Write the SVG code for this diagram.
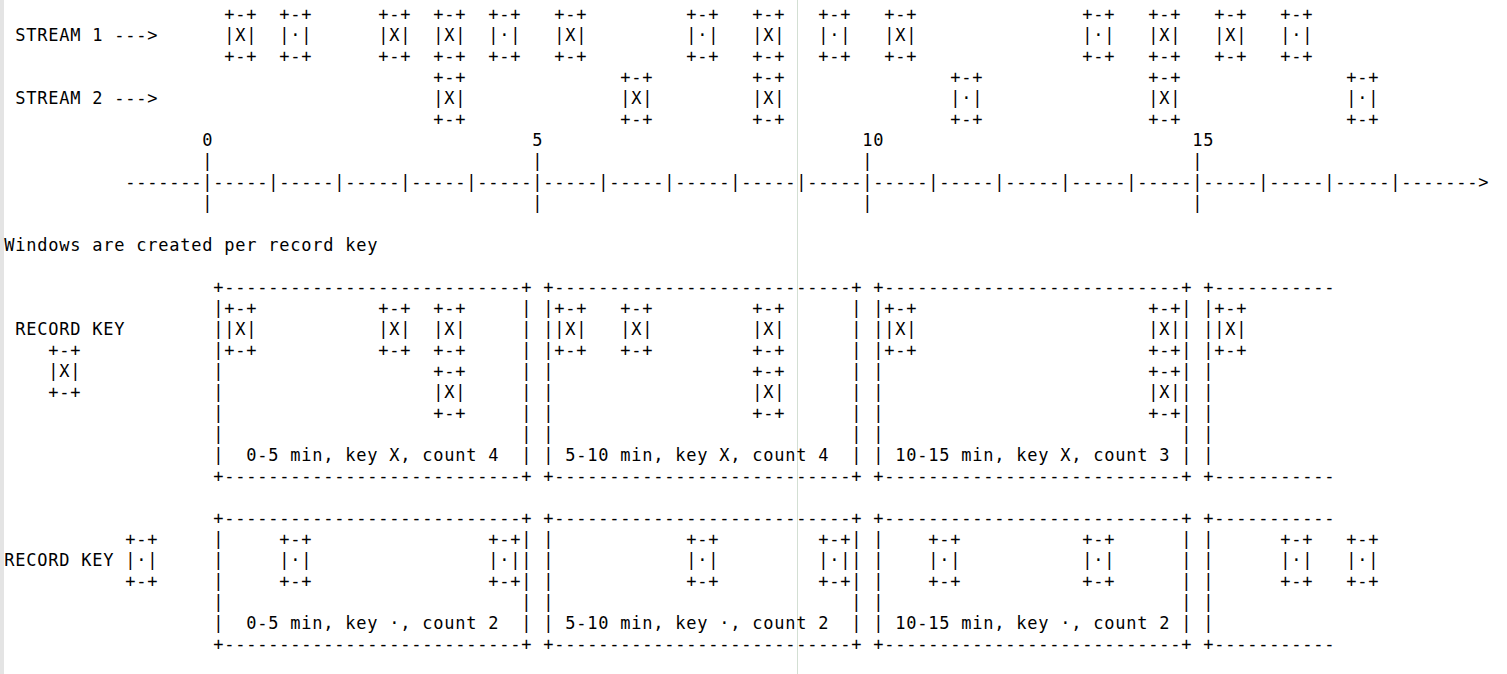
<svg xmlns="http://www.w3.org/2000/svg" width="1507" height="674" viewBox="0 0 1507 674" xml:space="preserve">
<style>
text { font-family: "DejaVu Sans Mono", "Liberation Mono", monospace; font-size: 17px; letter-spacing: 0.765px; fill: #000; white-space: pre; }
.bg { fill: #ffffff; }
.edge { fill: #e4e4e4; }
.ruler { stroke: #d3dfd3; stroke-width: 1; }
</style>
<rect class="bg" x="0" y="0" width="1507" height="674"/>
<rect class="edge" x="0" y="0" width="4" height="674"/>
<line class="ruler" x1="797.5" y1="0" x2="797.5" y2="674"/>

<g id="labels">
<text x="15.3" y="41">STREAM 1 ---&gt;</text>
<text x="15.3" y="104">STREAM 2 ---&gt;</text>
<text x="4.3" y="251">Windows are created per record key</text>
</g>

<g id="stream1">
<g id="s1-1"><text><tspan x="224.3" y="20">+-+</tspan><tspan x="224.3" y="41">|X|</tspan><tspan x="224.3" y="62">+-+</tspan></text></g>
<g id="s1-2"><text><tspan x="279.3" y="20">+-+</tspan><tspan x="279.3" y="41">|·|</tspan><tspan x="279.3" y="62">+-+</tspan></text></g>
<g id="s1-3"><text><tspan x="378.3" y="20">+-+</tspan><tspan x="378.3" y="41">|X|</tspan><tspan x="378.3" y="62">+-+</tspan></text></g>
<g id="s1-4"><text><tspan x="433.3" y="20">+-+</tspan><tspan x="433.3" y="41">|X|</tspan><tspan x="433.3" y="62">+-+</tspan></text></g>
<g id="s1-5"><text><tspan x="488.3" y="20">+-+</tspan><tspan x="488.3" y="41">|·|</tspan><tspan x="488.3" y="62">+-+</tspan></text></g>
<g id="s1-6"><text><tspan x="554.3" y="20">+-+</tspan><tspan x="554.3" y="41">|X|</tspan><tspan x="554.3" y="62">+-+</tspan></text></g>
<g id="s1-7"><text><tspan x="686.3" y="20">+-+</tspan><tspan x="686.3" y="41">|·|</tspan><tspan x="686.3" y="62">+-+</tspan></text></g>
<g id="s1-8"><text><tspan x="752.3" y="20">+-+</tspan><tspan x="752.3" y="41">|X|</tspan><tspan x="752.3" y="62">+-+</tspan></text></g>
<g id="s1-9"><text><tspan x="818.3" y="20">+-+</tspan><tspan x="818.3" y="41">|·|</tspan><tspan x="818.3" y="62">+-+</tspan></text></g>
<g id="s1-10"><text><tspan x="884.3" y="20">+-+</tspan><tspan x="884.3" y="41">|X|</tspan><tspan x="884.3" y="62">+-+</tspan></text></g>
<g id="s1-11"><text><tspan x="1082.3" y="20">+-+</tspan><tspan x="1082.3" y="41">|·|</tspan><tspan x="1082.3" y="62">+-+</tspan></text></g>
<g id="s1-12"><text><tspan x="1148.3" y="20">+-+</tspan><tspan x="1148.3" y="41">|X|</tspan><tspan x="1148.3" y="62">+-+</tspan></text></g>
<g id="s1-13"><text><tspan x="1214.3" y="20">+-+</tspan><tspan x="1214.3" y="41">|X|</tspan><tspan x="1214.3" y="62">+-+</tspan></text></g>
<g id="s1-14"><text><tspan x="1280.3" y="20">+-+</tspan><tspan x="1280.3" y="41">|·|</tspan><tspan x="1280.3" y="62">+-+</tspan></text></g>
</g>

<g id="stream2">
<g id="s2-1"><text><tspan x="433.3" y="83">+-+</tspan><tspan x="433.3" y="104">|X|</tspan><tspan x="433.3" y="125">+-+</tspan></text></g>
<g id="s2-2"><text><tspan x="620.3" y="83">+-+</tspan><tspan x="620.3" y="104">|X|</tspan><tspan x="620.3" y="125">+-+</tspan></text></g>
<g id="s2-3"><text><tspan x="752.3" y="83">+-+</tspan><tspan x="752.3" y="104">|X|</tspan><tspan x="752.3" y="125">+-+</tspan></text></g>
<g id="s2-4"><text><tspan x="950.3" y="83">+-+</tspan><tspan x="950.3" y="104">|·|</tspan><tspan x="950.3" y="125">+-+</tspan></text></g>
<g id="s2-5"><text><tspan x="1148.3" y="83">+-+</tspan><tspan x="1148.3" y="104">|X|</tspan><tspan x="1148.3" y="125">+-+</tspan></text></g>
<g id="s2-6"><text><tspan x="1346.3" y="83">+-+</tspan><tspan x="1346.3" y="104">|·|</tspan><tspan x="1346.3" y="125">+-+</tspan></text></g>
</g>

<g id="connectors">
<text x="125.3" y="188">-------|-----|-----|-----|-----|-----|-----|-----|-----|-----|-----|-----|-----|-----|-----|-----|-----|-----|-----|-------&gt;</text>
</g>

<g id="axis-ticks">
<text><tspan x="202.3" y="146">0</tspan><tspan x="532.3" y="146">5</tspan><tspan x="862.3" y="146">10</tspan><tspan x="1192.3" y="146">15</tspan></text>
<text><tspan x="202.3" y="167">|</tspan><tspan x="532.3" y="167">|</tspan><tspan x="862.3" y="167">|</tspan><tspan x="1192.3" y="167">|</tspan></text>
<text><tspan x="202.3" y="209">|</tspan><tspan x="532.3" y="209">|</tspan><tspan x="862.3" y="209">|</tspan><tspan x="1192.3" y="209">|</tspan></text>
</g>

<g id="key-x">
<g id="key-x-label"><text x="15.3" y="335">RECORD KEY</text><text><tspan x="48.3" y="356">+-+</tspan><tspan x="48.3" y="377">|X|</tspan><tspan x="48.3" y="398">+-+</tspan></text></g>
<g id="wx1">
<text x="213.3" y="293">+---------------------------+</text>
<text><tspan x="213.3" y="314">|</tspan><tspan x="213.3" y="335">|</tspan><tspan x="213.3" y="356">|</tspan><tspan x="213.3" y="377">|</tspan><tspan x="213.3" y="398">|</tspan><tspan x="213.3" y="419">|</tspan><tspan x="213.3" y="440">|</tspan></text>
<text><tspan x="521.3" y="314">|</tspan><tspan x="521.3" y="335">|</tspan><tspan x="521.3" y="356">|</tspan><tspan x="521.3" y="377">|</tspan><tspan x="521.3" y="398">|</tspan><tspan x="521.3" y="419">|</tspan><tspan x="521.3" y="440">|</tspan></text>
<text x="213.3" y="461">|  0-5 min, key X, count 4  |</text>
<text x="213.3" y="482">+---------------------------+</text>
<text><tspan x="224.3" y="314">+-+</tspan><tspan x="224.3" y="335">|X|</tspan><tspan x="224.3" y="356">+-+</tspan></text>
<text><tspan x="378.3" y="314">+-+</tspan><tspan x="378.3" y="335">|X|</tspan><tspan x="378.3" y="356">+-+</tspan></text>
<text><tspan x="433.3" y="314">+-+</tspan><tspan x="433.3" y="335">|X|</tspan><tspan x="433.3" y="356">+-+</tspan></text>
<text><tspan x="433.3" y="377">+-+</tspan><tspan x="433.3" y="398">|X|</tspan><tspan x="433.3" y="419">+-+</tspan></text>
</g>
<g id="wx2">
<text x="543.3" y="293">+---------------------------+</text>
<text><tspan x="543.3" y="314">|</tspan><tspan x="543.3" y="335">|</tspan><tspan x="543.3" y="356">|</tspan><tspan x="543.3" y="377">|</tspan><tspan x="543.3" y="398">|</tspan><tspan x="543.3" y="419">|</tspan><tspan x="543.3" y="440">|</tspan></text>
<text><tspan x="851.3" y="314">|</tspan><tspan x="851.3" y="335">|</tspan><tspan x="851.3" y="356">|</tspan><tspan x="851.3" y="377">|</tspan><tspan x="851.3" y="398">|</tspan><tspan x="851.3" y="419">|</tspan><tspan x="851.3" y="440">|</tspan></text>
<text x="543.3" y="461">| 5-10 min, key X, count 4  |</text>
<text x="543.3" y="482">+---------------------------+</text>
<text><tspan x="554.3" y="314">+-+</tspan><tspan x="554.3" y="335">|X|</tspan><tspan x="554.3" y="356">+-+</tspan></text>
<text><tspan x="620.3" y="314">+-+</tspan><tspan x="620.3" y="335">|X|</tspan><tspan x="620.3" y="356">+-+</tspan></text>
<text><tspan x="752.3" y="314">+-+</tspan><tspan x="752.3" y="335">|X|</tspan><tspan x="752.3" y="356">+-+</tspan></text>
<text><tspan x="752.3" y="377">+-+</tspan><tspan x="752.3" y="398">|X|</tspan><tspan x="752.3" y="419">+-+</tspan></text>
</g>
<g id="wx3">
<text x="873.3" y="293">+---------------------------+</text>
<text><tspan x="873.3" y="314">|</tspan><tspan x="873.3" y="335">|</tspan><tspan x="873.3" y="356">|</tspan><tspan x="873.3" y="377">|</tspan><tspan x="873.3" y="398">|</tspan><tspan x="873.3" y="419">|</tspan><tspan x="873.3" y="440">|</tspan></text>
<text><tspan x="1181.3" y="314">|</tspan><tspan x="1181.3" y="335">|</tspan><tspan x="1181.3" y="356">|</tspan><tspan x="1181.3" y="377">|</tspan><tspan x="1181.3" y="398">|</tspan><tspan x="1181.3" y="419">|</tspan><tspan x="1181.3" y="440">|</tspan></text>
<text x="873.3" y="461">| 10-15 min, key X, count 3 |</text>
<text x="873.3" y="482">+---------------------------+</text>
<text><tspan x="884.3" y="314">+-+</tspan><tspan x="884.3" y="335">|X|</tspan><tspan x="884.3" y="356">+-+</tspan></text>
<text><tspan x="1148.3" y="314">+-+</tspan><tspan x="1148.3" y="335">|X|</tspan><tspan x="1148.3" y="356">+-+</tspan></text>
<text><tspan x="1148.3" y="377">+-+</tspan><tspan x="1148.3" y="398">|X|</tspan><tspan x="1148.3" y="419">+-+</tspan></text>
</g>
<g id="wx4">
<text x="1203.3" y="293">+-----------</text>
<text><tspan x="1203.3" y="314">|</tspan><tspan x="1203.3" y="335">|</tspan><tspan x="1203.3" y="356">|</tspan><tspan x="1203.3" y="377">|</tspan><tspan x="1203.3" y="398">|</tspan><tspan x="1203.3" y="419">|</tspan><tspan x="1203.3" y="440">|</tspan><tspan x="1203.3" y="461">|</tspan></text>
<text x="1203.3" y="482">+-----------</text>
<text><tspan x="1214.3" y="314">+-+</tspan><tspan x="1214.3" y="335">|X|</tspan><tspan x="1214.3" y="356">+-+</tspan></text>
</g>
</g>

<g id="key-dot">
<g id="key-dot-label"><text x="4.3" y="566">RECORD KEY</text><text><tspan x="125.3" y="545">+-+</tspan><tspan x="125.3" y="566">|·|</tspan><tspan x="125.3" y="587">+-+</tspan></text></g>
<g id="wd1">
<text x="213.3" y="524">+---------------------------+</text>
<text><tspan x="213.3" y="545">|</tspan><tspan x="213.3" y="566">|</tspan><tspan x="213.3" y="587">|</tspan><tspan x="213.3" y="608">|</tspan></text>
<text><tspan x="521.3" y="545">|</tspan><tspan x="521.3" y="566">|</tspan><tspan x="521.3" y="587">|</tspan><tspan x="521.3" y="608">|</tspan></text>
<text x="213.3" y="629">|  0-5 min, key ·, count 2  |</text>
<text x="213.3" y="650">+---------------------------+</text>
<text><tspan x="279.3" y="545">+-+</tspan><tspan x="279.3" y="566">|·|</tspan><tspan x="279.3" y="587">+-+</tspan></text>
<text><tspan x="488.3" y="545">+-+</tspan><tspan x="488.3" y="566">|·|</tspan><tspan x="488.3" y="587">+-+</tspan></text>
</g>
<g id="wd2">
<text x="543.3" y="524">+---------------------------+</text>
<text><tspan x="543.3" y="545">|</tspan><tspan x="543.3" y="566">|</tspan><tspan x="543.3" y="587">|</tspan><tspan x="543.3" y="608">|</tspan></text>
<text><tspan x="851.3" y="545">|</tspan><tspan x="851.3" y="566">|</tspan><tspan x="851.3" y="587">|</tspan><tspan x="851.3" y="608">|</tspan></text>
<text x="543.3" y="629">| 5-10 min, key ·, count 2  |</text>
<text x="543.3" y="650">+---------------------------+</text>
<text><tspan x="686.3" y="545">+-+</tspan><tspan x="686.3" y="566">|·|</tspan><tspan x="686.3" y="587">+-+</tspan></text>
<text><tspan x="818.3" y="545">+-+</tspan><tspan x="818.3" y="566">|·|</tspan><tspan x="818.3" y="587">+-+</tspan></text>
</g>
<g id="wd3">
<text x="873.3" y="524">+---------------------------+</text>
<text><tspan x="873.3" y="545">|</tspan><tspan x="873.3" y="566">|</tspan><tspan x="873.3" y="587">|</tspan><tspan x="873.3" y="608">|</tspan></text>
<text><tspan x="1181.3" y="545">|</tspan><tspan x="1181.3" y="566">|</tspan><tspan x="1181.3" y="587">|</tspan><tspan x="1181.3" y="608">|</tspan></text>
<text x="873.3" y="629">| 10-15 min, key ·, count 2 |</text>
<text x="873.3" y="650">+---------------------------+</text>
<text><tspan x="928.3" y="545">+-+</tspan><tspan x="928.3" y="566">|·|</tspan><tspan x="928.3" y="587">+-+</tspan></text>
<text><tspan x="1082.3" y="545">+-+</tspan><tspan x="1082.3" y="566">|·|</tspan><tspan x="1082.3" y="587">+-+</tspan></text>
</g>
<g id="wd4">
<text x="1203.3" y="524">+-----------</text>
<text><tspan x="1203.3" y="545">|</tspan><tspan x="1203.3" y="566">|</tspan><tspan x="1203.3" y="587">|</tspan><tspan x="1203.3" y="608">|</tspan><tspan x="1203.3" y="629">|</tspan></text>
<text x="1203.3" y="650">+-----------</text>
<text><tspan x="1280.3" y="545">+-+</tspan><tspan x="1280.3" y="566">|·|</tspan><tspan x="1280.3" y="587">+-+</tspan></text>
<text><tspan x="1346.3" y="545">+-+</tspan><tspan x="1346.3" y="566">|·|</tspan><tspan x="1346.3" y="587">+-+</tspan></text>
</g>
</g>
</svg>
